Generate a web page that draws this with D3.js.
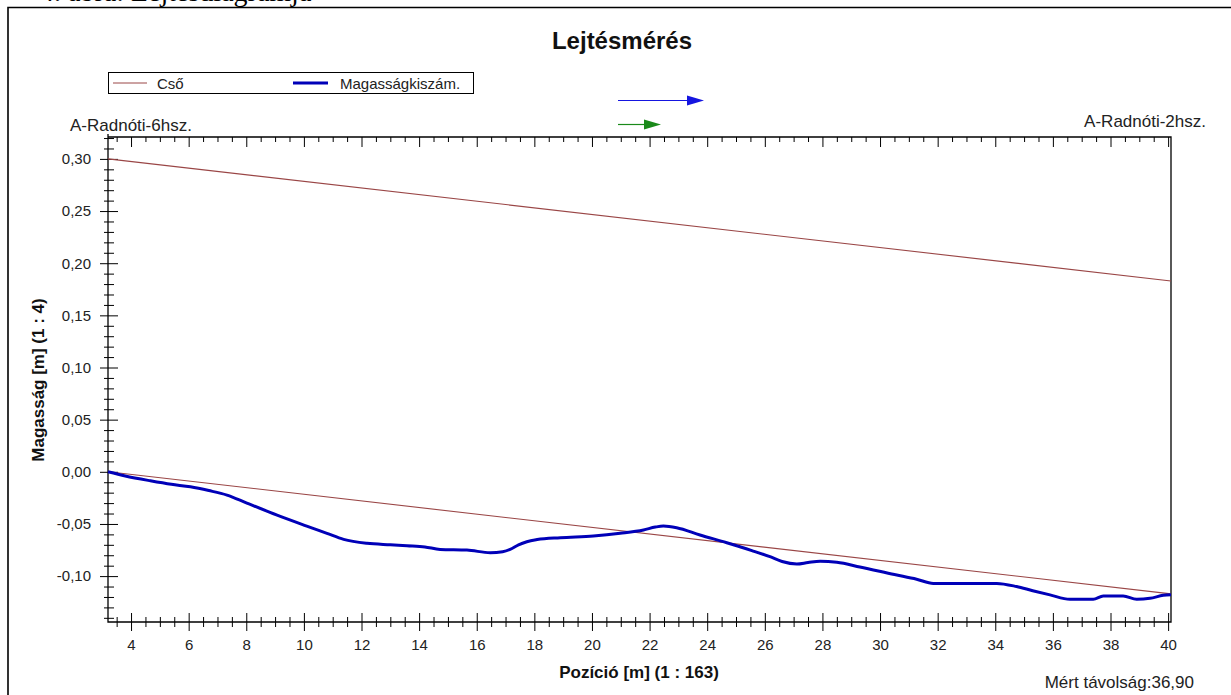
<!DOCTYPE html>
<html><head><meta charset="utf-8">
<script src="https://cdn.jsdelivr.net/npm/d3@7"></script>
<style>
html,body{margin:0;padding:0;background:#fff;}
svg{display:block;font-family:"Liberation Sans",Arial,sans-serif;}
</style></head>
<body>
<svg id="chart" width="1231" height="695"></svg>
<script>
// ---- data ----
const posX = [3.2,3.8,4.67,5.4,6.06,6.7,7.33,8.02,9.07,10.1,10.8,11.38,12.19,13.0,13.58,14.2,14.73,15.66,16.47,16.9,17.16,17.45,17.74,18.1,18.9,20.05,20.98,21.79,22.2,22.48,22.94,23.75,24.68,25.55,26.18,26.6,27.11,27.5,27.92,28.5,29.3,30.5,31.27,31.85,33.0,34.05,34.74,35.3,35.9,36.59,37.4,37.75,38.44,38.91,39.37,39.83,40.1];
const heightVals = [0,-0.004,-0.0086,-0.012,-0.0144,-0.018,-0.0223,-0.030,-0.0415,-0.052,-0.059,-0.0648,-0.0686,-0.070,-0.0709,-0.072,-0.0744,-0.075,-0.0776,-0.0766,-0.0744,-0.070,-0.067,-0.065,-0.0632,-0.0616,-0.059,-0.0558,-0.053,-0.052,-0.0536,-0.0606,-0.068,-0.0755,-0.0814,-0.086,-0.0884,-0.087,-0.0858,-0.0868,-0.0912,-0.0985,-0.103,-0.107,-0.107,-0.107,-0.110,-0.114,-0.118,-0.1222,-0.1222,-0.119,-0.119,-0.1222,-0.1213,-0.1184,-0.1178];
const pipeX = [3.2, 40.1];
const pipeTop = [0.30, 0.183];
const pipeBottom = [0.0, -0.117];
const xMajorTicks = [4,6,8,10,12,14,16,18,20,22,24,26,28,30,32,34,36,38,40];
const yMajorTicks = [-0.10,-0.05,0.00,0.05,0.10,0.15,0.20,0.25,0.30];
const xDomain = [3.2, 40.1];
const yDomain = [-0.144, 0.321];
const legendNames = ["Cső","Magasságkiszám."];
const measured = "Mért távolság:36,90";

// ---- layout ----
const svg = d3.select("#chart");
const L = 108, R = 1171, T = 137, B = 622;
const x = d3.scaleLinear().domain(xDomain).range([L, R]);
const y = d3.scaleLinear().domain(yDomain).range([B, T]);
const pipeCol = "#9a4646", blueCol = "#0000b8", txtCol = "#222";
const ff = "'Liberation Sans',Arial,sans-serif";

// outer frame + cut caption
svg.append("text").attr("x",40).attr("y",1).attr("font-family","'Liberation Serif',serif")
  .attr("font-size",28).attr("fill","#000").text("4. ábra: Lejtésdiagramja");
svg.append("path").attr("d","M8,695V7.5H1231").attr("fill","none").attr("stroke","#000").attr("stroke-width",1.6);

// title
svg.append("text").attr("x",622).attr("y",49).attr("text-anchor","middle")
  .attr("font-size",24).attr("font-weight","bold").attr("fill","#111").text("Lejtésmérés");

// legend
const lg = svg.append("g");
lg.append("rect").attr("x",108.5).attr("y",72.5).attr("width",365).attr("height",21)
  .attr("fill","#fff").attr("stroke","#000").attr("stroke-width",1);
lg.append("line").attr("x1",113).attr("x2",147).attr("y1",83).attr("y2",83).attr("stroke",pipeCol).attr("stroke-width",1);
lg.append("text").attr("x",157).attr("y",88.5).attr("font-size",15).attr("fill",txtCol).text(legendNames[0]);
lg.append("line").attr("x1",293).attr("x2",328).attr("y1",83).attr("y2",83).attr("stroke",blueCol).attr("stroke-width",3);
lg.append("text").attr("x",340).attr("y",88.5).attr("font-size",15).attr("fill",txtCol).text(legendNames[1]);

// direction arrows
function arrow(x1,x2,yy,col){
  svg.append("line").attr("x1",x1).attr("x2",x2-16).attr("y1",yy).attr("y2",yy).attr("stroke",col).attr("stroke-width",1.2);
  svg.append("path").attr("d",`M${x2-17},${yy-5}L${x2},${yy}L${x2-17},${yy+5}Z`).attr("fill",col);
}
arrow(618,704,100.5,"#1515e0");
arrow(618,661,124.5,"#1a8a1a");

// end labels
svg.append("text").attr("x",70).attr("y",131).attr("font-size",17).attr("fill",txtCol).text("A-Radnóti-6hsz.");
svg.append("text").attr("x",1206).attr("y",127).attr("font-size",17).attr("fill",txtCol).attr("text-anchor","end").text("A-Radnóti-2hsz.");

// axes
const fmt = d => d3.format(".2f")(d).replace(".",",").replace("−","-");
const yMinor = d3.range(-14,33).map(v=>v/100).filter(v=>Math.abs(Math.round(v*100)%5)!==0);
const xMinor = d3.range(3.5,40.1,0.5).filter(v=>v%2!==0);

// left axis
const gyMin = svg.append("g").attr("transform",`translate(${L},0)`).call(d3.axisLeft(y).tickValues(yMinor).tickSize(4).tickFormat(""));
gyMin.selectAll("line").attr("x1",6);
const gy = svg.append("g").attr("transform",`translate(${L},0)`).call(d3.axisLeft(y).tickValues(yMajorTicks).tickSize(8).tickPadding(9).tickFormat(fmt));
gy.selectAll("line").attr("x1",10);
gy.selectAll("text").attr("font-size",15).attr("fill",txtCol).attr("font-family",ff);
svg.selectAll(".domain").remove();

// bottom axis
const gxMin = svg.append("g").attr("transform",`translate(0,${B})`).call(d3.axisBottom(x).tickValues(xMinor).tickSize(5).tickFormat(""));
gxMin.selectAll("line").attr("y1",-5);
const gx = svg.append("g").attr("transform",`translate(0,${B})`).call(d3.axisBottom(x).tickValues(xMajorTicks).tickSize(9).tickPadding(8).tickFormat(d3.format("d")));
gx.selectAll("line").attr("y1",-9);
gx.selectAll("text").attr("font-size",15).attr("fill",txtCol).attr("font-family",ff);

// top axis (ticks pointing down)
const gtMin = svg.append("g").attr("transform",`translate(0,${T})`).call(d3.axisTop(x).tickValues(xMinor).tickSize(5).tickFormat(""));
gtMin.selectAll("line").attr("y2",5);
const gt = svg.append("g").attr("transform",`translate(0,${T})`).call(d3.axisTop(x).tickValues(xMajorTicks).tickSize(10).tickFormat(""));
gt.selectAll("line").attr("y2",10);
svg.selectAll(".domain").remove();

// frame of plot
svg.append("path").attr("d",`M${L},${T-3}V${B}H${R}V${T}H${L}`).attr("fill","none").attr("stroke","#000").attr("stroke-width",1.3);

// pipe lines
const lineGen = d3.line().x(d=>x(d[0])).y(d=>y(d[1]));
[pipeTop,pipeBottom].forEach(arr=>{
  svg.append("path").datum(pipeX.map((v,i)=>[v,arr[i]])).attr("d",lineGen)
    .attr("fill","none").attr("stroke",pipeCol).attr("stroke-width",1.1);
});
// measured height line
svg.append("path").datum(posX.map((v,i)=>[v,heightVals[i]]))
  .attr("d",d3.line().x(d=>x(d[0])).y(d=>y(d[1])).curve(d3.curveMonotoneX))
  .attr("fill","none").attr("stroke",blueCol).attr("stroke-width",3).attr("stroke-linejoin","round");

// axis titles
svg.append("text").attr("transform","translate(44,380) rotate(-90)").attr("text-anchor","middle")
  .attr("font-size",17).attr("font-weight","bold").attr("fill","#111").text("Magasság [m] (1 : 4)");
svg.append("text").attr("x",639).attr("y",678).attr("text-anchor","middle")
  .attr("font-size",17).attr("font-weight","bold").attr("fill","#111").text("Pozíció [m] (1 : 163)");
svg.append("text").attr("x",1194).attr("y",688).attr("text-anchor","end")
  .attr("font-size",17).attr("fill",txtCol).text(measured);
</script>
</body></html>
